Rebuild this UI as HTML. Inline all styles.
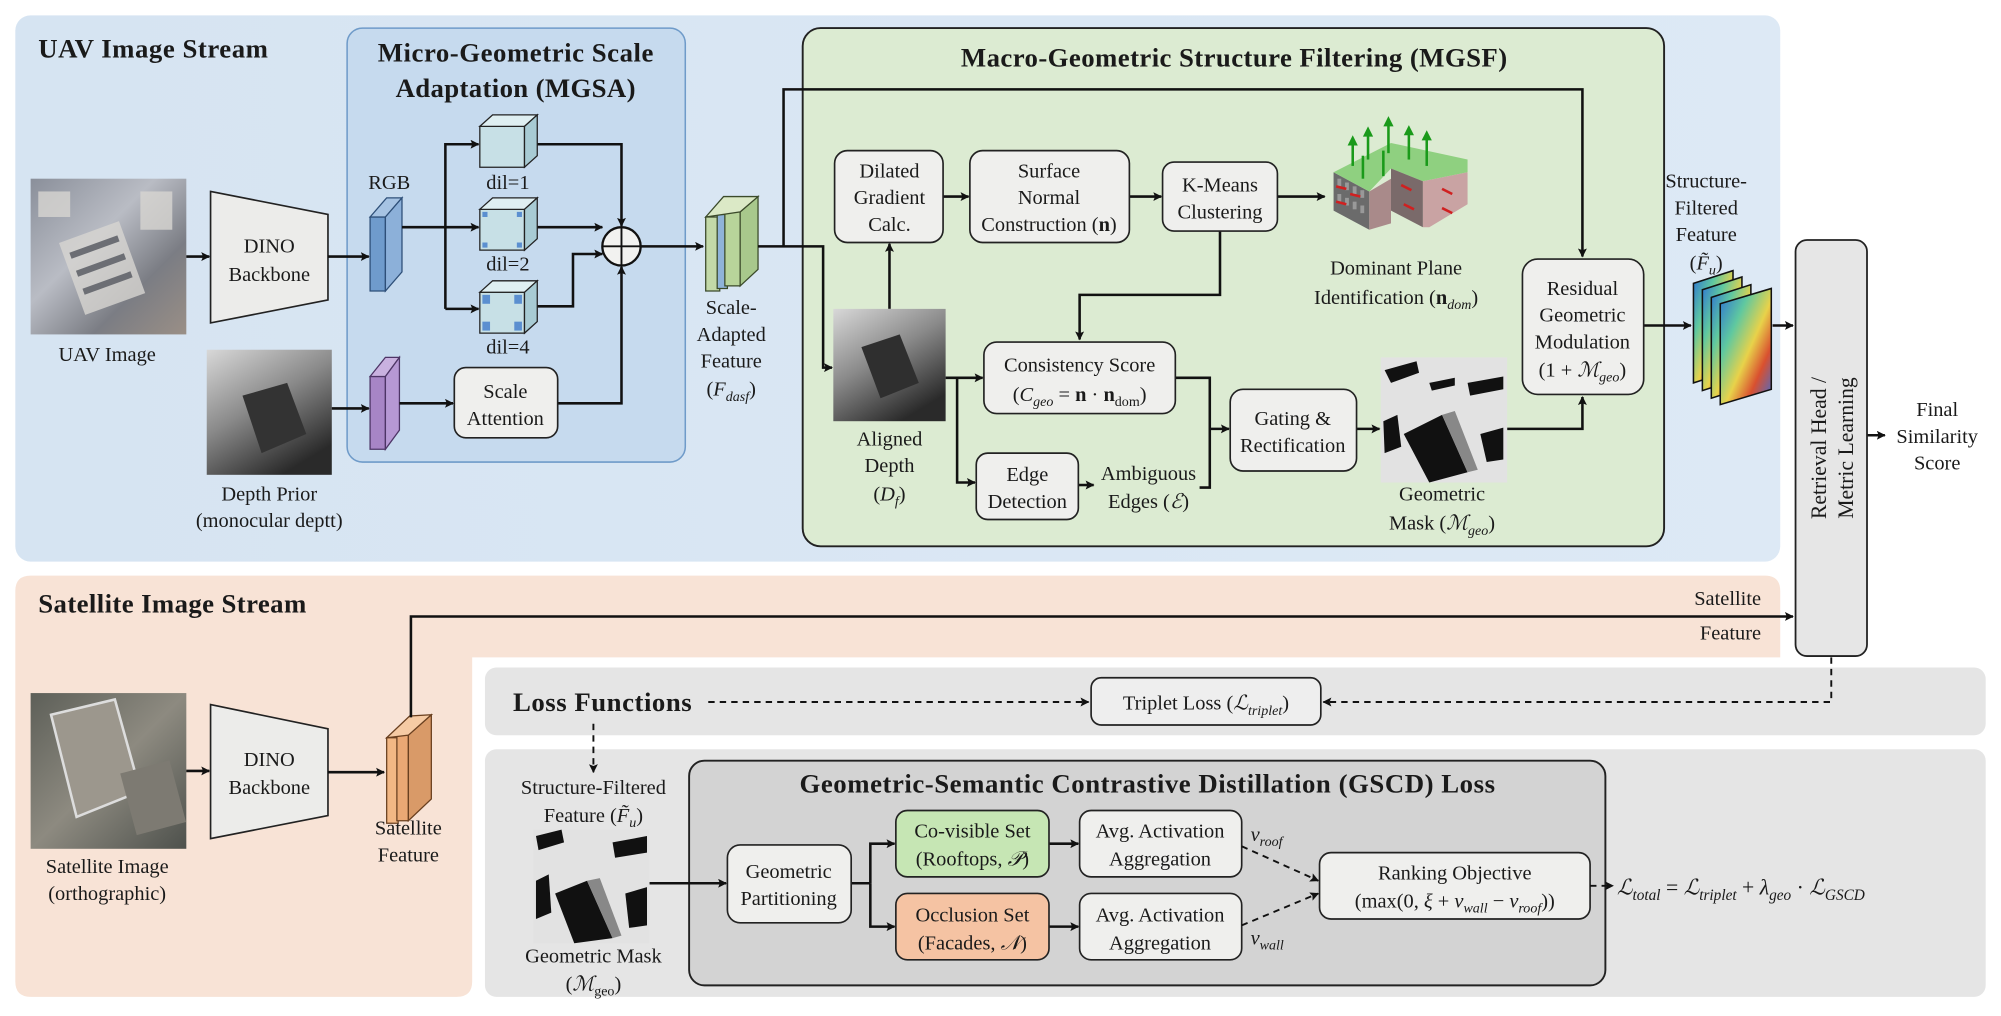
<!DOCTYPE html>
<html><head><meta charset="utf-8"><style>
html,body{margin:0;padding:0;background:#fff;}
svg{display:block;}
svg, svg text, svg tspan{font-family:"Liberation Serif","Times New Roman",serif !important;}
text{fill:#1a1a1a;}
.b{font-weight:bold;}
.t{font-size:16px;text-anchor:middle;}
.m{font-style:italic;}
</style></head><body>
<svg width="2001" height="1016" viewBox="0 0 1568 796" preserveAspectRatio="none" xmlns="http://www.w3.org/2000/svg" font-family="Liberation Serif, serif">
<defs>
<marker id="a" viewBox="0 0 10 10" refX="9" refY="5" markerWidth="7" markerHeight="7" orient="auto" markerUnits="userSpaceOnUse"><path d="M0,0 L10,5 L0,10 L2,5 z" fill="#111"/></marker>
<linearGradient id="uav" x1="0" y1="0" x2="1" y2="1"><stop offset="0" stop-color="#8a8f9a"/><stop offset=".4" stop-color="#b9bcc4"/><stop offset=".7" stop-color="#7b7d84"/><stop offset="1" stop-color="#9a8f86"/></linearGradient>
<linearGradient id="dep" x1="0" y1="0" x2="0.6" y2="1"><stop offset="0" stop-color="#d8d8d8"/><stop offset=".5" stop-color="#8a8a8a"/><stop offset="1" stop-color="#2a2a2a"/></linearGradient>
<linearGradient id="sat" x1="0" y1="0" x2="1" y2="1"><stop offset="0" stop-color="#5d5f58"/><stop offset=".5" stop-color="#8d8a80"/><stop offset="1" stop-color="#4e514c"/></linearGradient>
<linearGradient id="heat" x1="0" y1="0" x2="1" y2="1"><stop offset="0" stop-color="#2b6fd6"/><stop offset=".3" stop-color="#5fc8a0"/><stop offset=".55" stop-color="#e8d24a"/><stop offset=".75" stop-color="#d9502f"/><stop offset="1" stop-color="#3a6fd8"/></linearGradient>
<linearGradient id="ub" x1="0" y1="0" x2="1" y2="0"><stop offset="0" stop-color="#d6e4f2"/><stop offset="1" stop-color="#dde9f5"/></linearGradient>
</defs>

<!-- UAV panel -->
<rect x="12" y="12" width="1383" height="428" rx="12" fill="url(#ub)"/>
<text x="30" y="45" class="b" font-size="21" textLength="180">UAV Image Stream</text>

<!-- MGSA -->
<rect x="272" y="22" width="265" height="340" rx="12" fill="#c6daee" stroke="#6f9bc9" stroke-width="1.2"/>
<text x="404" y="48" class="b" font-size="21" text-anchor="middle" textLength="216">Micro-Geometric Scale</text>
<text x="404" y="76" class="b" font-size="21" text-anchor="middle" textLength="188">Adaptation (MGSA)</text>

<!-- UAV image -->
<rect x="24" y="140" width="122" height="122" fill="url(#uav)"/>
<g fill="#d8d6d2" opacity=".8"><rect x="55" y="180" width="50" height="60" transform="rotate(-20 80 210)"/><rect x="30" y="150" width="25" height="20"/><rect x="110" y="150" width="25" height="30"/></g>
<g fill="#6c6e74"><rect x="60" y="190" width="40" height="5" transform="rotate(-20 80 210)"/><rect x="60" y="205" width="40" height="5" transform="rotate(-20 80 210)"/><rect x="60" y="220" width="40" height="5" transform="rotate(-20 80 210)"/></g>
<text x="84" y="283" class="t">UAV Image</text>
<line x1="146" y1="201" x2="164" y2="201" stroke="#111" stroke-width="2" marker-end="url(#a)"/>
<polygon points="165,150 257,168 257,235 165,253" fill="#ececea" stroke="#222" stroke-width="1.3"/>
<text x="211" y="198" class="t">DINO</text><text x="211" y="220" class="t">Backbone</text>
<line x1="257" y1="201" x2="289" y2="201" stroke="#111" stroke-width="2" marker-end="url(#a)"/>

<!-- RGB slab -->
<text x="305" y="148" class="t">RGB</text>
<polygon points="290,170 302,170 302,228 290,228" fill="#6f9bcc" stroke="#2e4f78" stroke-width="1"/>
<polygon points="290,170 303,155 315,155 302,170" fill="#a6c3e3" stroke="#2e4f78" stroke-width="1"/>
<polygon points="302,170 315,155 315,213 302,228" fill="#8cb0d9" stroke="#2e4f78" stroke-width="1"/>

<g stroke="#111" stroke-width="2" fill="none">
<line x1="315" y1="178" x2="375" y2="178" marker-end="url(#a)"/>
<polyline points="349,242 349,113 375,113" marker-end="url(#a)"/>
<line x1="349" y1="242" x2="375" y2="242" marker-end="url(#a)"/>
<polyline points="421,113 487,113 487,177" marker-end="url(#a)"/>
<line x1="421" y1="178" x2="472" y2="178" marker-end="url(#a)"/>
<polyline points="421,240 449,240 449,199 472,199" marker-end="url(#a)"/>
<polyline points="437,316 487,316 487,209" marker-end="url(#a)"/>
</g>
<g stroke="#222" stroke-width="1">
<polygon points="376,99 411,99 411,131 376,131" fill="#c7e0e6"/><polygon points="376,99 386,90 421,90 411,99" fill="#dfeff2"/><polygon points="411,99 421,90 421,122 411,131" fill="#a8cbd4"/>
<polygon points="376,164 411,164 411,196 376,196" fill="#c7e0e6"/><polygon points="376,164 386,155 421,155 411,164" fill="#dfeff2"/><polygon points="411,164 421,155 421,187 411,196" fill="#a8cbd4"/>
<polygon points="376,229 411,229 411,261 376,261" fill="#c7e0e6"/><polygon points="376,229 386,220 421,220 411,229" fill="#dfeff2"/><polygon points="411,229 421,220 421,252 411,261" fill="#a8cbd4"/>
</g>
<g fill="#5b8fd0"><rect x="378" y="166" width="4" height="4"/><rect x="405" y="166" width="4" height="4"/><rect x="378" y="190" width="4" height="4"/><rect x="405" y="190" width="4" height="4"/>
<rect x="378" y="231" width="6" height="7"/><rect x="403" y="231" width="6" height="7"/><rect x="378" y="252" width="6" height="7"/><rect x="403" y="252" width="6" height="7"/></g>
<text x="398" y="148" class="t">dil=1</text><text x="398" y="212" class="t">dil=2</text><text x="398" y="277" class="t">dil=4</text>
<circle cx="487" cy="193" r="15" fill="#f2f2f0" stroke="#111" stroke-width="1.8"/>
<line x1="472" y1="193" x2="502" y2="193" stroke="#111" stroke-width="1.5"/><line x1="487" y1="178" x2="487" y2="208" stroke="#111" stroke-width="1.5"/>

<!-- depth prior -->
<rect x="162" y="274" width="98" height="98" fill="url(#dep)"/>
<polygon points="190,310 225,300 240,340 205,355" fill="#333"/>
<text x="211" y="392" class="t">Depth Prior</text><text x="211" y="413" class="t">(monocular deptt)</text>
<line x1="260" y1="320" x2="289" y2="320" stroke="#111" stroke-width="2" marker-end="url(#a)"/>
<polygon points="290,295 302,295 302,352 290,352" fill="#a785c6" stroke="#4d3566"/>
<polygon points="290,295 302,280 313,280 302,295" fill="#c9b1e0" stroke="#4d3566"/>
<polygon points="302,295 313,280 313,337 302,352" fill="#b698d4" stroke="#4d3566"/>
<line x1="313" y1="316" x2="355" y2="316" stroke="#111" stroke-width="2" marker-end="url(#a)"/>
<rect x="356" y="288" width="81" height="55" rx="9" fill="#efefed" stroke="#222" stroke-width="1.3"/>
<text x="396" y="312" class="t">Scale</text><text x="396" y="333" class="t">Attention</text>

<!-- scale adapted feature -->
<line x1="502" y1="193" x2="551" y2="193" stroke="#111" stroke-width="2" marker-end="url(#a)"/>
<polygon points="553,170 564,170 564,228 553,228" fill="#c3d9a8" stroke="#3b4a2a"/>
<polygon points="562,168 570,168 570,226 562,226" fill="#8fb3d8" stroke="#3b4a2a"/>
<polygon points="568,166 580,166 580,224 568,224" fill="#b8d49a" stroke="#3b4a2a"/>
<polygon points="580,166 594,154 594,211 580,224" fill="#a8c88c" stroke="#3b4a2a"/>
<polygon points="553,170 567,154 594,154 580,166" fill="#dbe9c6" stroke="#3b4a2a"/>
<text x="573" y="246" class="t">Scale-</text><text x="573" y="267" class="t">Adapted</text><text x="573" y="288" class="t">Feature</text>
<text x="573" y="310" class="t">(<tspan class="m">F</tspan><tspan class="m" font-size="11" dy="4">dasf</tspan><tspan dy="-4">)</tspan></text>

<!-- MGSF -->
<rect x="629" y="22" width="675" height="406" rx="14" fill="#dcebd2" stroke="#222" stroke-width="1.5"/>
<text x="967" y="52" class="b" font-size="21" text-anchor="middle" textLength="428">Macro-Geometric Structure Filtering (MGSF)</text>
<g stroke="#111" stroke-width="2" fill="none">
<polyline points="594,193 645,193 645,288 652,288" marker-end="url(#a)"/>
<polyline points="614,193 614,70 1240,70 1240,201" marker-end="url(#a)"/>
<line x1="697" y1="242" x2="697" y2="191" marker-end="url(#a)"/>
<line x1="739" y1="154" x2="759" y2="154" marker-end="url(#a)"/>
<line x1="885" y1="154" x2="910" y2="154" marker-end="url(#a)"/>
<line x1="1001" y1="154" x2="1038" y2="154" marker-end="url(#a)"/>
<polyline points="956,181 956,231 846,231 846,266" marker-end="url(#a)"/>
<line x1="741" y1="296" x2="770" y2="296" marker-end="url(#a)"/>
<polyline points="750,296 750,378 764,378" marker-end="url(#a)"/>
<line x1="845" y1="380" x2="857" y2="380" marker-end="url(#a)"/>
<polyline points="921,296 948,296 948,382 940,382"/>
<line x1="948" y1="336" x2="963" y2="336" marker-end="url(#a)"/>
<line x1="1063" y1="336" x2="1081" y2="336" marker-end="url(#a)"/>
<polyline points="1181,336 1240,336 1240,311" marker-end="url(#a)"/>
<line x1="1288" y1="255" x2="1325" y2="255" marker-end="url(#a)"/>
<line x1="1389" y1="255" x2="1405" y2="255" marker-end="url(#a)"/>
<line x1="1463" y1="341" x2="1477" y2="341" marker-end="url(#a)"/>
</g>
<g fill="#efefed" stroke="#222" stroke-width="1.3">
<rect x="654" y="118" width="85" height="72" rx="10"/>
<rect x="760" y="118" width="125" height="72" rx="10"/>
<rect x="911" y="127" width="90" height="54" rx="9"/>
<rect x="771" y="268" width="150" height="56" rx="10"/>
<rect x="765" y="355" width="80" height="52" rx="9"/>
<rect x="964" y="305" width="99" height="64" rx="10"/>
<rect x="1193" y="203" width="95" height="106" rx="12"/>
</g>
<text x="697" y="139" class="t">Dilated</text><text x="697" y="160" class="t">Gradient</text><text x="697" y="181" class="t">Calc.</text>
<text x="822" y="139" class="t">Surface</text><text x="822" y="160" class="t">Normal</text><text x="822" y="181" class="t">Construction (<tspan class="b">n</tspan>)</text>
<text x="956" y="150" class="t">K-Means</text><text x="956" y="171" class="t">Clustering</text>
<text x="846" y="291" class="t">Consistency Score</text>
<text x="846" y="314" class="t">(<tspan class="m">C</tspan><tspan class="m" font-size="11" dy="4">geo</tspan><tspan dy="-4"> = </tspan><tspan class="b">n</tspan> · <tspan class="b">n</tspan><tspan font-size="11" dy="4">dom</tspan><tspan dy="-4">)</tspan></text>
<text x="805" y="377" class="t">Edge</text><text x="805" y="398" class="t">Detection</text>
<text x="900" y="376" class="t">Ambiguous</text><text x="900" y="398" class="t">Edges (<tspan class="m">ℰ</tspan>)</text>
<text x="1013" y="333" class="t">Gating &amp;</text><text x="1013" y="354" class="t">Rectification</text>
<text x="1240" y="231" class="t">Residual</text><text x="1240" y="252" class="t">Geometric</text><text x="1240" y="273" class="t">Modulation</text>
<text x="1240" y="295" class="t">(1 + <tspan class="m">ℳ</tspan><tspan class="m" font-size="11" dy="4">geo</tspan><tspan dy="-4">)</tspan></text>

<!-- aligned depth -->
<rect x="653" y="242" width="88" height="88" fill="url(#dep)"/>
<polygon points="675,272 705,262 720,300 690,312" fill="#2f2f2f"/>
<text x="697" y="349" class="t">Aligned</text><text x="697" y="370" class="t">Depth</text>
<text x="697" y="392" class="t">(<tspan class="m">D</tspan><tspan class="m" font-size="11" dy="4">f</tspan><tspan dy="-4">)</tspan></text>

<!-- building -->
<polygon points="1045,135 1073,150 1073,180 1045,165" fill="#6b6b6b"/>
<polygon points="1045,135 1090,112 1150,125 1150,135 1115,142 1090,132 1073,150" fill="#8fd080"/>
<polygon points="1090,132 1115,142 1115,178 1090,165" fill="#7a6a6a"/>
<polygon points="1115,142 1150,135 1150,160 1120,178 1115,178" fill="#c9a3a3"/>
<polygon points="1073,150 1090,140 1090,175 1073,180" fill="#a98a8a"/>
<g fill="#999"><rect x="1048" y="140" width="3" height="6"/><rect x="1054" y="143" width="3" height="6"/><rect x="1060" y="146" width="3" height="6"/><rect x="1066" y="149" width="3" height="6"/><rect x="1048" y="152" width="3" height="6"/><rect x="1054" y="155" width="3" height="6"/><rect x="1060" y="158" width="3" height="6"/><rect x="1066" y="161" width="3" height="6"/></g>
<g stroke="#1a9a1a" stroke-width="2"><line x1="1060" y1="130" x2="1060" y2="112"/><line x1="1072" y1="125" x2="1072" y2="105"/><line x1="1088" y1="120" x2="1088" y2="97"/><line x1="1104" y1="125" x2="1104" y2="104"/><line x1="1118" y1="130" x2="1118" y2="108"/><line x1="1084" y1="138" x2="1084" y2="118"/><line x1="1068" y1="140" x2="1068" y2="122"/></g>
<g fill="#1a9a1a"><polygon points="1056,114 1064,114 1060,106"/><polygon points="1068,107 1076,107 1072,99"/><polygon points="1084,99 1092,99 1088,91"/><polygon points="1100,106 1108,106 1104,98"/><polygon points="1114,110 1122,110 1118,102"/></g>
<g stroke="#d02020" stroke-width="2"><line x1="1047" y1="146" x2="1055" y2="148"/><line x1="1047" y1="158" x2="1055" y2="160"/><line x1="1058" y1="152" x2="1066" y2="154"/><line x1="1098" y1="145" x2="1106" y2="149"/><line x1="1100" y1="160" x2="1108" y2="164"/><line x1="1130" y1="148" x2="1138" y2="152"/><line x1="1130" y1="163" x2="1138" y2="167"/></g>
<text x="1094" y="215" class="t">Dominant Plane</text>
<text x="1094" y="238" class="t">Identification (<tspan class="b">n</tspan><tspan class="m" font-size="11" dy="4">dom</tspan><tspan dy="-4">)</tspan></text>

<!-- geometric mask -->
<rect x="1082" y="280" width="99" height="98" fill="#e2e2e2"/>
<g fill="#111"><polygon points="1085,290 1110,283 1112,292 1090,300"/><polygon points="1100,340 1130,325 1150,370 1120,378"/><polygon points="1150,300 1178,295 1178,305 1152,310"/><polygon points="1084,330 1095,325 1098,350 1085,355"/><polygon points="1160,340 1178,335 1178,360 1165,362"/><polygon points="1120,300 1140,296 1140,302 1122,306"/></g>
<polygon points="1130,325 1140,322 1158,368 1150,370" fill="#888"/>
<text x="1130" y="392" class="t">Geometric</text>
<text x="1130" y="415" class="t">Mask (<tspan class="m">ℳ</tspan><tspan class="m" font-size="11" dy="4">geo</tspan><tspan dy="-4">)</tspan></text>

<!-- feature stack -->
<text x="1337" y="147" class="t">Structure-</text><text x="1337" y="168" class="t">Filtered</text><text x="1337" y="189" class="t">Feature</text>
<text x="1337" y="211" class="t">(<tspan class="m">F̃</tspan><tspan class="m" font-size="11" dy="4">u</tspan><tspan dy="-4">)</tspan></text>
<g stroke="#111" stroke-width="1.2" fill="url(#heat)">
<polygon points="1327,222 1358,212 1358,290 1327,300"/>
<polygon points="1334,227 1365,217 1365,296 1334,306"/>
<polygon points="1341,233 1372,223 1372,302 1341,312"/>
<polygon points="1348,238 1388,226 1388,305 1348,317"/>
</g>

<!-- retrieval head -->
<rect x="1407" y="188" width="56" height="326" rx="9" fill="#e6e6e6" stroke="#222" stroke-width="1.4"/>
<text transform="translate(1431,351) rotate(-90)" text-anchor="middle" font-size="17">Retrieval Head /</text>
<text transform="translate(1452,351) rotate(-90)" text-anchor="middle" font-size="17">Metric Learning</text>
<text x="1518" y="326" class="t">Final</text><text x="1518" y="347" class="t">Similarity</text><text x="1518" y="368" class="t">Score</text>

<!-- Satellite panel -->
<path d="M24,451 H1383 Q1395,451 1395,463 V515 H370 V769 Q370,781 358,781 H24 Q12,781 12,769 V463 Q12,451 24,451 Z" fill="#f8e3d6"/>
<text x="30" y="480" class="b" font-size="21" textLength="210">Satellite Image Stream</text>
<rect x="24" y="543" width="122" height="122" fill="url(#sat)"/>
<polygon points="40,560 90,548 110,620 60,640" fill="#9c978d" stroke="#ddd" stroke-width="2"/>
<rect x="100" y="600" width="40" height="50" fill="#7d7a72" transform="rotate(-15 120 625)"/>
<text x="84" y="684" class="t">Satellite Image</text><text x="84" y="705" class="t">(orthographic)</text>
<line x1="146" y1="604" x2="164" y2="604" stroke="#111" stroke-width="2" marker-end="url(#a)"/>
<polygon points="165,552 257,571 257,639 165,657" fill="#ececea" stroke="#222" stroke-width="1.3"/>
<text x="211" y="600" class="t">DINO</text><text x="211" y="622" class="t">Backbone</text>
<line x1="257" y1="605" x2="301" y2="605" stroke="#111" stroke-width="2" marker-end="url(#a)"/>
<polygon points="303,578 312,578 312,645 303,645" fill="#f2b784" stroke="#6a4020"/>
<polygon points="311,576 320,576 320,643 311,643" fill="#eaa874" stroke="#6a4020"/>
<polygon points="320,576 338,560 338,626 320,643" fill="#d99a68" stroke="#6a4020"/>
<polygon points="303,578 321,561 338,560 320,576" fill="#f6cba4" stroke="#6a4020"/>
<text x="320" y="654" class="t">Satellite</text><text x="320" y="675" class="t">Feature</text>
<polyline points="322,562 322,483 1405,483" stroke="#111" stroke-width="2" fill="none" marker-end="url(#a)"/>
<text x="1380" y="474" font-size="16" text-anchor="end">Satellite</text>
<text x="1380" y="501" font-size="16" text-anchor="end">Feature</text>

<!-- Loss functions -->
<rect x="380" y="523" width="1176" height="53" rx="9" fill="#e5e5e5"/>
<text x="402" y="557" class="b" font-size="21" textLength="140">Loss Functions</text>
<rect x="855" y="531" width="180" height="37" rx="8" fill="#eeeeee" stroke="#222" stroke-width="1.3"/>
<text x="945" y="556" class="t">Triplet Loss (<tspan class="m">ℒ</tspan><tspan class="m" font-size="11" dy="4">triplet</tspan><tspan dy="-4">)</tspan></text>

<!-- GSCD -->
<rect x="380" y="587" width="1176" height="194" rx="9" fill="#e5e5e5"/>
<rect x="540" y="596" width="718" height="176" rx="12" fill="#d3d3d3" stroke="#222" stroke-width="1.5"/>
<text x="899" y="621" class="b" font-size="21" text-anchor="middle" textLength="545">Geometric-Semantic Contrastive Distillation (GSCD) Loss</text>
<text x="465" y="622" class="t">Structure-Filtered</text>
<text x="465" y="644" class="t">Feature (<tspan class="m">F̃</tspan><tspan class="m" font-size="11" dy="4">u</tspan><tspan dy="-4">)</tspan></text>
<rect x="418" y="650" width="91" height="89" fill="#e2e2e2"/>
<g fill="#111"><polygon points="420,655 440,650 442,660 422,666"/><polygon points="435,700 460,690 480,735 450,739"/><polygon points="480,660 507,655 507,668 482,672"/><polygon points="420,690 430,685 432,715 420,720"/><polygon points="490,700 507,695 507,725 493,727"/></g>
<polygon points="460,690 470,688 487,733 480,735" fill="#888"/>
<text x="465" y="754" class="t">Geometric Mask</text>
<text x="465" y="776" class="t">(<tspan class="m">ℳ</tspan><tspan font-size="11" dy="4">geo</tspan><tspan dy="-4">)</tspan></text>
<g stroke="#111" stroke-width="2" fill="none">
<line x1="509" y1="692" x2="569" y2="692" marker-end="url(#a)"/>
<line x1="667" y1="692" x2="682" y2="692"/>
<polyline points="682,692 682,661 701,661" marker-end="url(#a)"/>
<polyline points="682,692 682,726 701,726" marker-end="url(#a)"/>
<line x1="822" y1="661" x2="845" y2="661" marker-end="url(#a)"/>
<line x1="822" y1="726" x2="845" y2="726" marker-end="url(#a)"/>
</g>
<rect x="570" y="662" width="97" height="61" rx="10" fill="#efefed" stroke="#222" stroke-width="1.3"/>
<text x="618" y="688" class="t">Geometric</text><text x="618" y="709" class="t">Partitioning</text>
<rect x="702" y="635" width="120" height="52" rx="9" fill="#c6e6b4" stroke="#222" stroke-width="1.3"/>
<text x="762" y="656" class="t">Co-visible Set</text><text x="762" y="678" class="t">(Rooftops, <tspan class="m">𝒫</tspan>)</text>
<rect x="702" y="700" width="120" height="52" rx="9" fill="#f5c3a3" stroke="#222" stroke-width="1.3"/>
<text x="762" y="722" class="t">Occlusion Set</text><text x="762" y="744" class="t">(Facades, <tspan class="m">𝒩</tspan>)</text>
<rect x="846" y="635" width="127" height="52" rx="9" fill="#efefed" stroke="#222" stroke-width="1.3"/>
<text x="909" y="656" class="t">Avg. Activation</text><text x="909" y="678" class="t">Aggregation</text>
<rect x="846" y="700" width="127" height="52" rx="9" fill="#efefed" stroke="#222" stroke-width="1.3"/>
<text x="909" y="722" class="t">Avg. Activation</text><text x="909" y="744" class="t">Aggregation</text>
<text x="980" y="659" font-size="16" class="m">v<tspan font-size="11" dy="4">roof</tspan></text>
<text x="980" y="740" font-size="16" class="m">v<tspan font-size="11" dy="4">wall</tspan></text>
<rect x="1034" y="668" width="212" height="52" rx="9" fill="#efefed" stroke="#222" stroke-width="1.3"/>
<text x="1140" y="689" class="t">Ranking Objective</text>
<text x="1140" y="711" class="t">(max(0, <tspan class="m">ξ</tspan> + <tspan class="m">v</tspan><tspan class="m" font-size="11" dy="4">wall</tspan><tspan dy="-4"> − </tspan><tspan class="m">v</tspan><tspan class="m" font-size="11" dy="4">roof</tspan><tspan dy="-4">))</tspan></text>
<text x="1267" y="701" font-size="17"><tspan class="m">ℒ</tspan><tspan class="m" font-size="12" dy="4">total</tspan><tspan dy="-4"> = </tspan><tspan class="m">ℒ</tspan><tspan class="m" font-size="12" dy="4">triplet</tspan><tspan dy="-4"> + </tspan><tspan class="m">λ</tspan><tspan class="m" font-size="12" dy="4">geo</tspan><tspan dy="-4"> · </tspan><tspan class="m">ℒ</tspan><tspan class="m" font-size="12" dy="4">GSCD</tspan></text>

<!-- dashed connectors (drawn last) -->
<g stroke="#111" stroke-width="1.5" fill="none" stroke-dasharray="5,4">
<line x1="555" y1="550" x2="853" y2="550" marker-end="url(#a)"/>
<polyline points="1435,515 1435,550 1037,550" marker-end="url(#a)"/>
<line x1="465" y1="567" x2="465" y2="605" marker-end="url(#a)"/>
<line x1="973" y1="663" x2="1033" y2="690" marker-end="url(#a)"/>
<line x1="973" y1="725" x2="1033" y2="700" marker-end="url(#a)"/>
<line x1="1246" y1="694" x2="1264" y2="694" marker-end="url(#a)"/>
</g>
</svg>
</body></html>
